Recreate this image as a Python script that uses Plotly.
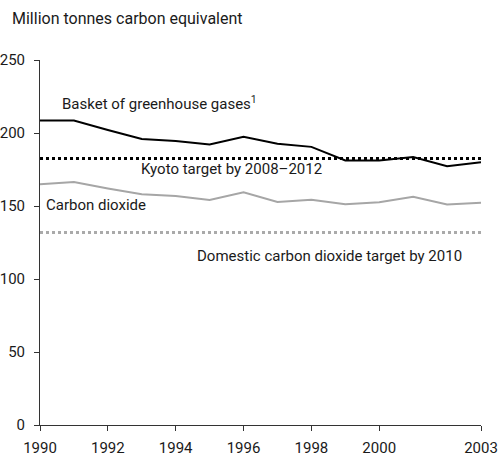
import plotly.graph_objects as go

years = list(range(1990, 2004))
basket = [208.5, 208.5, 202.0, 195.9, 194.5, 192.1, 197.4, 192.6, 190.5, 181.2, 181.2, 183.5, 177.2, 179.9]
co2 = [164.9, 166.4, 162.0, 158.0, 156.9, 154.2, 159.4, 152.8, 154.2, 151.2, 152.6, 156.4, 151.0, 152.3]
kyoto_target = 182.6
domestic_target = 131.9
target_years = [1990, 2003]
y_ticks = [0, 50, 100, 150, 200, 250]
x_ticks = [1990, 1992, 1994, 1996, 1998, 2000, 2003]

FONT = "Roboto, sans-serif"
FS = 15

W, H = 499, 460
L, R, T, B = 40, 18, 60, 35
pw, ph = W - L - R, H - T - B

fig = go.Figure()
fig.add_trace(go.Scatter(x=target_years, y=[kyoto_target] * 2, mode="lines",
                         line=dict(color="black", width=3, dash="dot"), hoverinfo="skip"))
fig.add_trace(go.Scatter(x=target_years, y=[domestic_target] * 2, mode="lines",
                         line=dict(color="#aaaaaa", width=3, dash="dot"), hoverinfo="skip"))
fig.add_trace(go.Scatter(x=years, y=co2, mode="lines",
                         line=dict(color="#a6a6a6", width=2)))
fig.add_trace(go.Scatter(x=years, y=basket, mode="lines",
                         line=dict(color="black", width=2)))

annotations = [
    dict(x=(10 - L) / pw, y=1 + (T - 18) / ph, xref="paper", yref="paper",
         xanchor="left", yanchor="middle",
         text="Million tonnes carbon equivalent", showarrow=False, font=dict(size=16)),
    dict(x=1990.59, y=220.5, text="Basket of greenhouse gases<sup>1</sup>", xanchor="left",
         yanchor="middle", showarrow=False, font=dict(size=FS)),
    dict(x=1992.92, y=175.3, text="Kyoto target by 2008–2012", xanchor="left", yanchor="middle",
         showarrow=False, font=dict(size=FS)),
    dict(x=1990.12, y=150.7, text="Carbon dioxide", xanchor="left", yanchor="middle",
         showarrow=False, font=dict(size=FS)),
    dict(x=1994.57, y=115.8, text="Domestic carbon dioxide target by 2010", xanchor="left",
         yanchor="middle", showarrow=False, font=dict(size=FS)),
]

fig.update_layout(
    width=W, height=H,
    margin=dict(l=L, r=R, t=T, b=B, autoexpand=False),
    paper_bgcolor="white", plot_bgcolor="white",
    showlegend=False,
    font=dict(family=FONT, size=FS, color="#1a1a1a"),
    annotations=annotations,
    xaxis=dict(range=[1990, 2003], tickvals=x_ticks, ticktext=[str(v) for v in x_ticks],
               showgrid=False, zeroline=False, showline=True, linecolor="#333333", linewidth=1,
               ticks="outside", ticklen=5, tickcolor="#333333", tickfont=dict(size=FS),
               ticklabelstandoff=4, automargin=False),
    yaxis=dict(range=[0, 250], tickvals=y_ticks, showgrid=False, zeroline=False,
               showline=True, linecolor="#333333", linewidth=1,
               ticks="outside", ticklen=5, tickcolor="#333333", tickfont=dict(size=FS),
               ticklabelstandoff=6, automargin=False),
)
fig.write_html("out.html", config={"displayModeBar": False},
               post_script="document.body.style.margin='0px';document.body.style.overflow='hidden';")
